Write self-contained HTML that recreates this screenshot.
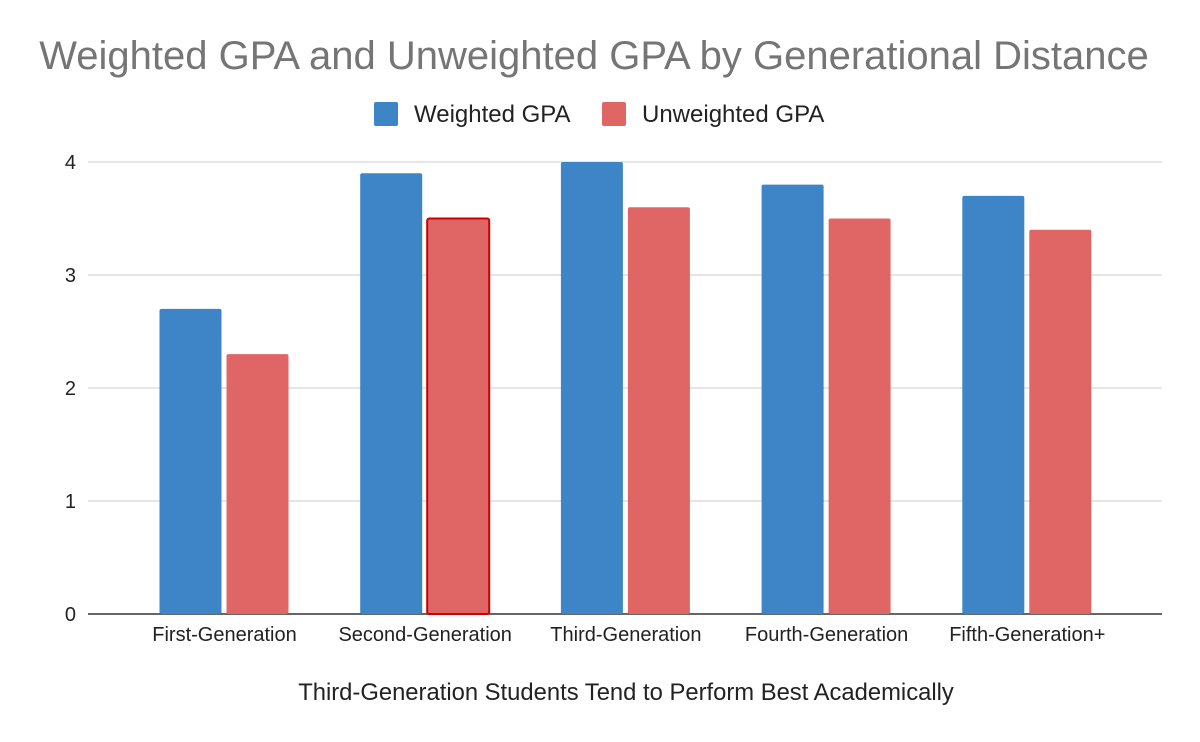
<!DOCTYPE html>
<html><head><meta charset="utf-8"><style>
body{margin:0;background:#fff;}
svg{display:block;font-family:"Liberation Sans",Arial,sans-serif;}
</style></head><body>
<svg id="chart" width="1200" height="742" viewBox="0 0 1200 742">
<rect width="1200" height="742" fill="#fff"/>
<text x="594" y="69" text-anchor="middle" font-size="40" fill="#757575">Weighted GPA and Unweighted GPA by Generational Distance</text>
<g>
<g><rect x="374" y="102" width="24" height="24" rx="2" fill="#3d85c6"/><text x="414" y="122" font-size="24" fill="#222">Weighted GPA</text></g>
<g><rect x="602" y="102" width="24" height="24" rx="2" fill="#e06666"/><text x="642" y="122" font-size="24" fill="#222">Unweighted GPA</text></g>
</g>
<g id="grid"></g><g id="bars"></g><g id="xlabels"></g>
<text x="626" y="700" text-anchor="middle" font-size="23.8" fill="#222">Third-Generation Students Tend to Perform Best Academically</text>
</svg>
<script>
const categories=["First-Generation","Second-Generation","Third-Generation","Fourth-Generation","Fifth-Generation+"];
const weighted=[2.7,3.9,4.0,3.8,3.7];
const unweighted=[2.3,3.5,3.6,3.5,3.4];
const yTicks=[0,1,2,3,4];
const NS="http://www.w3.org/2000/svg";
const y0=614, pxPerUnit=113, left=88, right=1162;
const y=v=>y0-v*pxPerUnit;
const cx=i=>224.5+i*200.7;
function mk(tag,attrs,parent){const e=document.createElementNS(NS,tag);for(const k in attrs)e.setAttribute(k,attrs[k]);parent.appendChild(e);return e;}
const grid=document.getElementById('grid');
yTicks.forEach(t=>{
 const l=mk('line',{x1:left,x2:right,y1:y(t),y2:y(t),stroke:t===0?'#333':'#ccc','stroke-width':t===0?1.5:1},grid);
 
 
 const tx=mk('text',{x:76,y:y(t)+7,'text-anchor':'end','font-size':20,fill:'#222'},grid);
 tx.textContent=t;
 
 
});
const bars=document.getElementById('bars');
const xl=document.getElementById('xlabels');
categories.forEach((c,i)=>{
 const b=mk('rect',{x:cx(i)-65,y:y(weighted[i]),width:62,height:weighted[i]*pxPerUnit,fill:'#3d85c6',rx:2},bars);
 
 
 const r=mk('rect',{x:cx(i)+2,y:y(unweighted[i]),width:62,height:unweighted[i]*pxPerUnit,fill:'#e06666',rx:2},bars);
 if(i===1){r.setAttribute('stroke','#cc0000');r.setAttribute('stroke-width','2');}
 
 
 const t=mk('text',{x:cx(i),y:641,'text-anchor':'middle','font-size':20,fill:'#222'},xl);
 t.textContent=c;
 
 
});
</script>
</body></html>
